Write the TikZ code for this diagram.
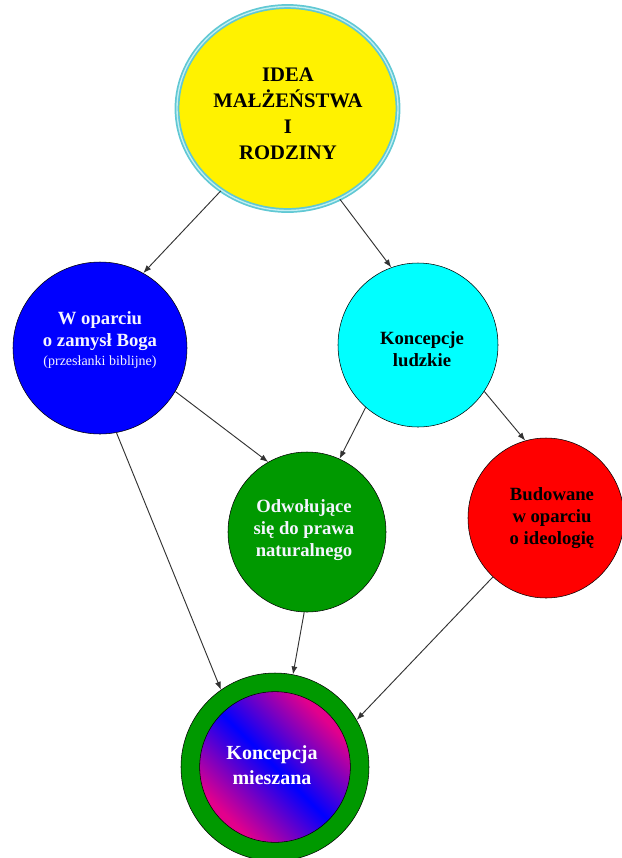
\documentclass[tikz,border=0pt]{standalone}
\usepackage{fontspec}
\setmainfont{Liberation Serif}
\usetikzlibrary{arrows.meta,shapes.geometric}

\definecolor{ringcyan}{RGB}{96,200,212}
\definecolor{ringlight}{RGB}{195,238,242}
\definecolor{leafgreen}{RGB}{0,153,0}
\definecolor{skycyan}{RGB}{0,255,255}
\definecolor{mixpink}{RGB}{226,0,140}
\definecolor{paletext}{RGB}{245,245,255}
\pgfdeclarehorizontalshading{mixshade}{100bp}{color(0bp)=(mixpink); color(27bp)=(mixpink); color(50bp)=(blue); color(73bp)=(mixpink); color(100bp)=(mixpink)}

\begin{document}
\begin{tikzpicture}[x=0.75pt,y=-0.75pt,>={Latex[length=6pt,width=4.5pt]},
  bubble/.style={ellipse,draw=black,line width=0.4pt,inner sep=0pt},
  txt/.style={align=center,inner sep=0pt,font=\bfseries\fontsize{14}{16.5}\selectfont},
  link/.style={->,draw=black!80,line width=0.7pt}]
  \useasboundingbox (0,0) rectangle (622,858);

  \node[bubble,fill=yellow,draw=ringcyan,line width=1.3pt,double=ringlight,double distance=1pt,
        minimum width=165.75pt,minimum height=153pt] (idea) at (287.5,108.5) {};
  \node[bubble,fill=blue,minimum width=130.5pt,minimum height=129pt] (bog) at (100,348) {};
  \node[bubble,fill=skycyan,minimum width=120pt,minimum height=123pt] (ludzkie) at (418,345) {};
  \node[bubble,fill=leafgreen,minimum width=118.5pt,minimum height=120pt] (prawo) at (307,532) {};
  \node[bubble,fill=red,minimum width=117pt,minimum height=120pt] (ideologia) at (546,518) {};
  \node[bubble,fill=leafgreen,minimum width=141pt,minimum height=141pt] (mieszana) at (275,767) {};
  \node[circle,draw=black,line width=0.4pt,inner sep=0pt,minimum size=113pt,
        shading=mixshade,shading angle=45] (mix) at (275,767) {};

  \node[txt,font=\bfseries\fontsize{15.5}{19.5}\selectfont] (ideatxt) at (288,114) {IDEA\\MAŁŻEŃSTWA\\I\\RODZINY};
  \node[txt,text=paletext,font=\bfseries\fontsize{14}{17}\selectfont] (bogtxt) at (100,340)
    {W oparciu\\o zamysł Boga\\[-3pt]{\normalfont\fontsize{10.5}{13}\selectfont(przesłanki biblijne)}};
  \node[txt] (ludzkietxt) at (422,349) {Koncepcje\\ludzkie};
  \node[txt,text=paletext] (prawotxt) at (304,530) {Odwołujące\\się do prawa\\naturalnego};
  \node[txt] (ideologiatxt) at (552,518) {Budowane\\w oparciu\\o ideologię};
  \node[txt,text=white,font=\bfseries\fontsize{15}{18.75}\selectfont] (mixtxt) at (272,765) {Koncepcja\\mieszana};

  \foreach \s/\e in {idea.231/bog.60,idea.300/ludzkie.109,bog.330/prawo.119,ludzkie.230/prawo.66,
                     ludzkie.325/ideologia.105,bog.281/mieszana.125,prawo.268/mieszana.79,ideologia.228/mieszana.30}
    \draw[link] (\s) -- (\e);
\end{tikzpicture}
\end{document}
